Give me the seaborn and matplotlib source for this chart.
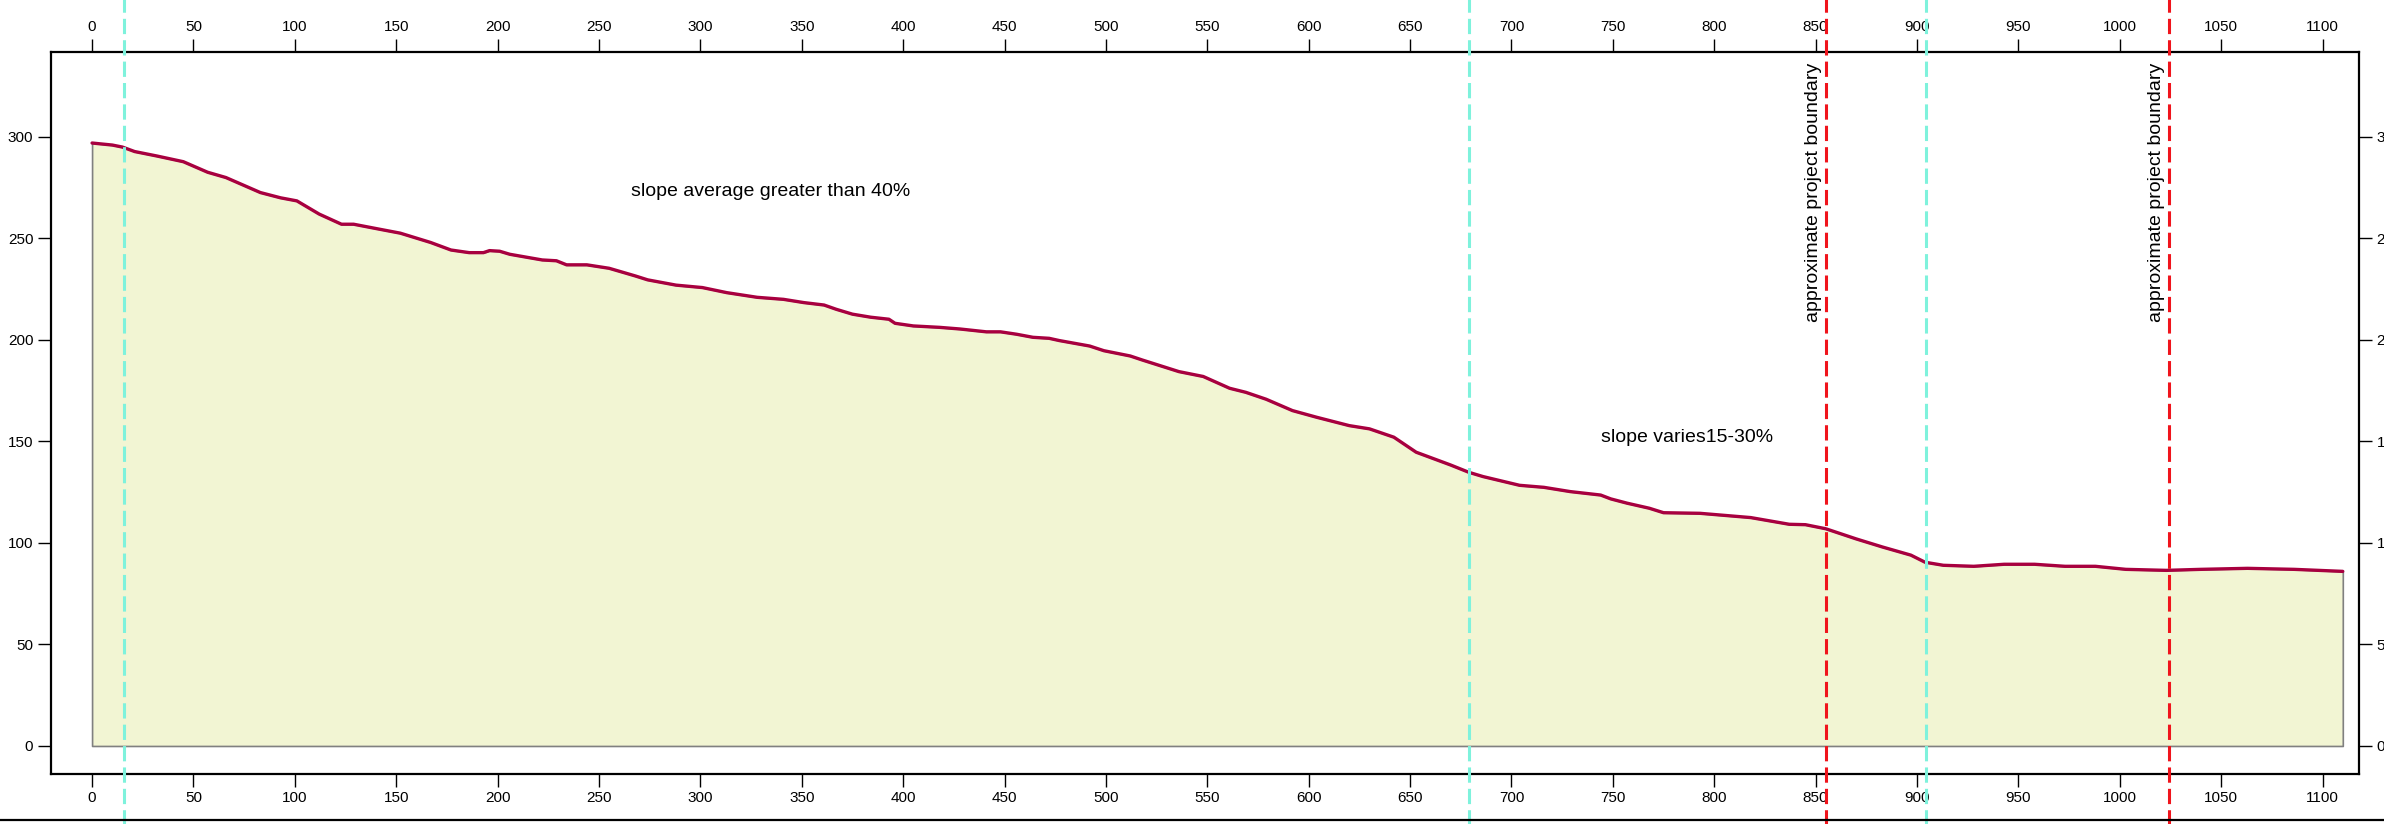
import numpy as np
import pandas as pd
import matplotlib.pyplot as plt
from matplotlib.lines import Line2D
import seaborn as sns

# ground profile: distance along section vs elevation
DIST = [0, 10, 15, 21, 32, 45, 57, 66, 83, 93, 101, 112, 123, 129, 142, 152,
        167, 177, 186, 193, 196, 201, 206, 222, 229, 234, 244, 255, 268, 274,
        288, 301, 313, 328, 341, 351, 361, 367, 375, 384, 393, 396, 405, 418,
        428, 441, 448, 456, 464, 472, 477, 492, 499, 512, 518, 536, 548, 561,
        569, 579, 592, 604, 620, 630, 642, 653, 670, 679, 686, 704, 716, 729,
        744, 749, 757, 768, 775, 793, 818, 837, 845, 855, 870, 883, 897, 904,
        913, 928, 943, 958, 973, 988, 1003, 1023, 1040, 1063, 1086, 1110]
ELEV = [297, 296, 295, 292.8, 290.6, 287.8, 282.6, 280, 272.6, 270, 268.5,
        262, 257, 257, 254.5, 252.6, 248, 244.3, 243, 243, 244, 243.7, 242.2,
        239.4, 239, 237, 237, 235.3, 231.5, 229.6, 227, 225.8, 223.3, 221,
        220, 218.4, 217.2, 215.1, 212.7, 211.2, 210.2, 208.2, 206.9, 206.2,
        205.4, 204, 204, 202.8, 201.3, 200.8, 199.7, 197, 194.7, 192.1, 190.1,
        184.4, 182, 176.2, 174.2, 170.8, 165.2, 161.9, 157.8, 156.2, 152.1,
        144.7, 138.4, 134.8, 132.7, 128.4, 127.4, 125.3, 123.6, 121.7, 119.6,
        117.1, 114.9, 114.6, 112.5, 109.2, 109, 107, 102, 98, 94, 90.5, 89,
        88.5, 89.5, 89.5, 88.5, 88.5, 87, 86.5, 87, 87.5, 87, 86]

SLOPE_BREAKS = [15.5, 679, 904.5]
BOUNDARIES = [855.3, 1024.5]
BOUNDARY_LABEL = "approximate project boundary"
ZONE_LABELS = ["slope average greater than 40%", "slope varies15-30%"]
ZONE_POS = [(266, 273), (744, 152)]

XTICKS = list(range(0, 1101, 50))
YTICKS = list(range(0, 301, 50))

LINE_COLOR = "#a8003f"
FILL_COLOR = "#f2f5d3"
CYAN = "#7ff2dc"
RED = "#f0141c"

sns.set_style("ticks")
plt.rcParams["font.family"] = ["Liberation Sans", "DejaVu Sans"]

profile = pd.DataFrame({"dist": DIST, "elev": ELEV})

fig = plt.figure(figsize=(23.84, 8.24), dpi=100)
ax = fig.add_axes([0.02127, 0.0607, 0.96825, 0.8766])

ax.fill_between(profile["dist"], profile["elev"], 0, facecolor=FILL_COLOR,
                edgecolor="#808080", linewidth=1.2, zorder=1)
sns.lineplot(data=profile, x="dist", y="elev", ax=ax, color=LINE_COLOR,
             linewidth=2.4, sort=False, estimator=None, zorder=3)

# dashed guide lines run past the frame to the picture edges
for xv in SLOPE_BREAKS:
    ax.axvline(xv, ymin=-0.07, ymax=1.075, color=CYAN, linewidth=2.2,
               dashes=(5, 2), clip_on=False, zorder=4)
for xv in BOUNDARIES:
    ax.axvline(xv, ymin=-0.07, ymax=1.075, color=RED, linewidth=2.2,
               dashes=(5, 2), clip_on=False, zorder=4)
    ax.text(xv - 2.3, 336.5, BOUNDARY_LABEL, rotation=90, ha="right",
            va="top", fontsize=14, color="black")

for label, (tx, ty) in zip(ZONE_LABELS, ZONE_POS):
    ax.text(tx, ty, label, ha="left", va="center", fontsize=14, color="black")

ax.set_xlim(-20.4, 1118)
ax.set_ylim(-13.8, 342)
ax.set_xticks(XTICKS)
ax.set_yticks(YTICKS)
ax.set_xlabel("")
ax.set_ylabel("")
ax.tick_params(axis="both", direction="out", length=9.5, width=1,
               labelsize=11, pad=3, colors="black",
               top=True, right=True, labeltop=True, labelright=True)
for sp in ax.spines.values():
    sp.set_visible(True)
    sp.set_linewidth(1.6)
    sp.set_color("black")

fig.add_artist(Line2D([0, 1], [0.0049, 0.0049], color="black", linewidth=1.6))

fig.savefig("out.png", dpi=100)
